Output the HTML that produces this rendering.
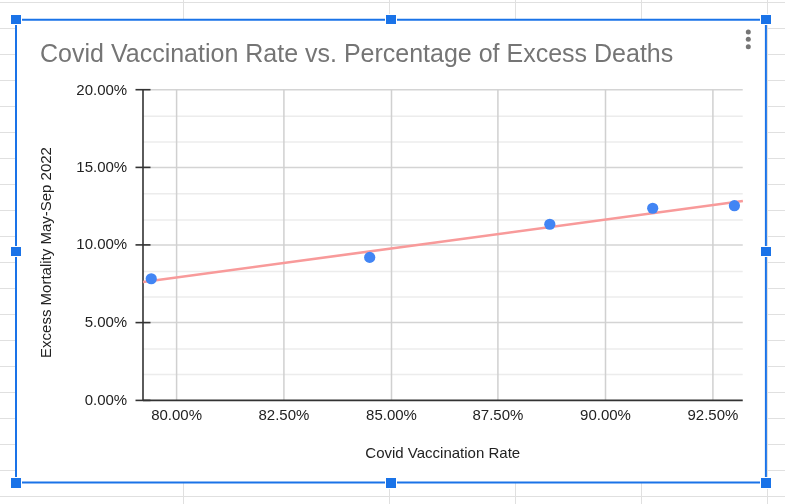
<!DOCTYPE html>
<html><head><meta charset="utf-8">
<style>
html,body{margin:0;padding:0;background:#fff;width:785px;height:504px;overflow:hidden;position:relative;font-family:"Liberation Sans",sans-serif;}
svg{position:absolute;left:0;top:0;will-change:transform;}
</style></head><body>
<svg width="785" height="504" viewBox="0 0 785 504">
<rect x="0" y="2" width="785" height="1" fill="#e0e0e0"/>
<rect x="0" y="28" width="785" height="1" fill="#e0e0e0"/>
<rect x="0" y="54" width="785" height="1" fill="#e0e0e0"/>
<rect x="0" y="80" width="785" height="1" fill="#e0e0e0"/>
<rect x="0" y="106" width="785" height="1" fill="#e0e0e0"/>
<rect x="0" y="132" width="785" height="1" fill="#e0e0e0"/>
<rect x="0" y="158" width="785" height="1" fill="#e0e0e0"/>
<rect x="0" y="184" width="785" height="1" fill="#e0e0e0"/>
<rect x="0" y="210" width="785" height="1" fill="#e0e0e0"/>
<rect x="0" y="236" width="785" height="1" fill="#e0e0e0"/>
<rect x="0" y="262" width="785" height="1" fill="#e0e0e0"/>
<rect x="0" y="288" width="785" height="1" fill="#e0e0e0"/>
<rect x="0" y="314" width="785" height="1" fill="#e0e0e0"/>
<rect x="0" y="340" width="785" height="1" fill="#e0e0e0"/>
<rect x="0" y="366" width="785" height="1" fill="#e0e0e0"/>
<rect x="0" y="392" width="785" height="1" fill="#e0e0e0"/>
<rect x="0" y="418" width="785" height="1" fill="#e0e0e0"/>
<rect x="0" y="444" width="785" height="1" fill="#e0e0e0"/>
<rect x="0" y="470" width="785" height="1" fill="#e0e0e0"/>
<rect x="0" y="496" width="785" height="1" fill="#e0e0e0"/>
<rect x="183" y="0" width="1" height="504" fill="#e0e0e0"/>
<rect x="389" y="0" width="1" height="504" fill="#e0e0e0"/>
<rect x="515" y="0" width="1" height="504" fill="#e0e0e0"/>
<rect x="641" y="0" width="1" height="504" fill="#e0e0e0"/>
<rect x="767" y="0" width="1" height="504" fill="#e0e0e0"/>
<rect x="16" y="19.5" width="750" height="463" fill="#fff"/>
<text x="40.05" y="62.2" font-size="25" fill="#757575">Covid Vaccination Rate vs. Percentage of Excess Deaths</text>
<circle cx="748.3" cy="32" r="2.5" fill="#757575"/>
<circle cx="748.3" cy="39.3" r="2.5" fill="#757575"/>
<circle cx="748.3" cy="46.7" r="2.5" fill="#757575"/>
<line x1="143" y1="116.3" x2="742.75" y2="116.3" stroke="#ececec" stroke-width="1.5"/>
<line x1="143" y1="142.1" x2="742.75" y2="142.1" stroke="#ececec" stroke-width="1.5"/>
<line x1="143" y1="193.8" x2="742.75" y2="193.8" stroke="#ececec" stroke-width="1.5"/>
<line x1="143" y1="219.9" x2="742.75" y2="219.9" stroke="#ececec" stroke-width="1.5"/>
<line x1="143" y1="271.4" x2="742.75" y2="271.4" stroke="#ececec" stroke-width="1.5"/>
<line x1="143" y1="297.1" x2="742.75" y2="297.1" stroke="#ececec" stroke-width="1.5"/>
<line x1="143" y1="349.1" x2="742.75" y2="349.1" stroke="#ececec" stroke-width="1.5"/>
<line x1="143" y1="374.5" x2="742.75" y2="374.5" stroke="#ececec" stroke-width="1.5"/>
<line x1="143" y1="89.7" x2="742.75" y2="89.7" stroke="#d4d4d4" stroke-width="1.5"/>
<line x1="143" y1="167.4" x2="742.75" y2="167.4" stroke="#d4d4d4" stroke-width="1.5"/>
<line x1="143" y1="244.9" x2="742.75" y2="244.9" stroke="#d4d4d4" stroke-width="1.5"/>
<line x1="143" y1="322.6" x2="742.75" y2="322.6" stroke="#d4d4d4" stroke-width="1.5"/>
<line x1="176.6" y1="89.7" x2="176.6" y2="400.4" stroke="#d0d0d0" stroke-width="1.5"/>
<line x1="283.9" y1="89.7" x2="283.9" y2="400.4" stroke="#d0d0d0" stroke-width="1.5"/>
<line x1="391.5" y1="89.7" x2="391.5" y2="400.4" stroke="#d0d0d0" stroke-width="1.5"/>
<line x1="497.9" y1="89.7" x2="497.9" y2="400.4" stroke="#d0d0d0" stroke-width="1.5"/>
<line x1="605.5" y1="89.7" x2="605.5" y2="400.4" stroke="#d0d0d0" stroke-width="1.5"/>
<line x1="712.9" y1="89.7" x2="712.9" y2="400.4" stroke="#d0d0d0" stroke-width="1.5"/>
<line x1="143" y1="89.7" x2="143" y2="400.4" stroke="#333" stroke-width="1.6"/>
<line x1="143" y1="400.4" x2="742.75" y2="400.4" stroke="#333" stroke-width="1.6"/>
<line x1="135.5" y1="89.7" x2="150.5" y2="89.7" stroke="#333" stroke-width="1.6"/>
<line x1="135.5" y1="167.4" x2="150.5" y2="167.4" stroke="#333" stroke-width="1.6"/>
<line x1="135.5" y1="244.9" x2="150.5" y2="244.9" stroke="#333" stroke-width="1.6"/>
<line x1="135.5" y1="322.6" x2="150.5" y2="322.6" stroke="#333" stroke-width="1.6"/>
<line x1="135.5" y1="400.4" x2="150.5" y2="400.4" stroke="#333" stroke-width="1.6"/>
<text x="127.2" y="94.8" font-size="15" fill="#222" text-anchor="end">20.00%</text>
<text x="127.2" y="172.1" font-size="15" fill="#222" text-anchor="end">15.00%</text>
<text x="127.2" y="248.8" font-size="15" fill="#222" text-anchor="end">10.00%</text>
<text x="127.2" y="327.4" font-size="15" fill="#222" text-anchor="end">5.00%</text>
<text x="127.2" y="404.5" font-size="15" fill="#222" text-anchor="end">0.00%</text>
<text x="176.6" y="419.6" font-size="15" fill="#222" text-anchor="middle">80.00%</text>
<text x="283.9" y="419.6" font-size="15" fill="#222" text-anchor="middle">82.50%</text>
<text x="391.5" y="419.6" font-size="15" fill="#222" text-anchor="middle">85.00%</text>
<text x="497.9" y="419.6" font-size="15" fill="#222" text-anchor="middle">87.50%</text>
<text x="605.5" y="419.6" font-size="15" fill="#222" text-anchor="middle">90.00%</text>
<text x="712.9" y="419.6" font-size="15" fill="#222" text-anchor="middle">92.50%</text>
<text x="442.75" y="457.8" font-size="15" fill="#222" text-anchor="middle">Covid Vaccination Rate</text>
<text transform="translate(51.25 252.5) rotate(-90)" font-size="15" fill="#222" text-anchor="middle">Excess Mortality May-Sep 2022</text>
<line x1="143" y1="282" x2="742.9" y2="201" stroke="#f89a9a" stroke-width="2.6"/>
<circle cx="151.25" cy="278.75" r="5.6" fill="#4285f4"/>
<circle cx="369.7" cy="257.4" r="5.6" fill="#4285f4"/>
<circle cx="549.8" cy="224.25" r="5.6" fill="#4285f4"/>
<circle cx="652.7" cy="208.25" r="5.6" fill="#4285f4"/>
<circle cx="734.4" cy="205.7" r="5.6" fill="#4285f4"/>
<line x1="16" y1="19.8" x2="766" y2="19.8" stroke="#1a73e8" stroke-width="2"/>
<line x1="16" y1="482.5" x2="766" y2="482.5" stroke="#1a73e8" stroke-width="2"/>
<line x1="16" y1="19" x2="16" y2="483.5" stroke="#1a73e8" stroke-width="2"/>
<line x1="765.9" y1="19" x2="765.9" y2="483.5" stroke="#1a73e8" stroke-width="2"/>
<rect x="10" y="14" width="12" height="11" fill="#fff"/>
<rect x="11" y="15" width="10" height="9" fill="#1a73e8"/>
<rect x="10" y="246" width="12" height="11" fill="#fff"/>
<rect x="11" y="247" width="10" height="9" fill="#1a73e8"/>
<rect x="10" y="477" width="12" height="12" fill="#fff"/>
<rect x="11" y="478" width="10" height="10" fill="#1a73e8"/>
<rect x="385" y="14" width="12" height="11" fill="#fff"/>
<rect x="386" y="15" width="10" height="9" fill="#1a73e8"/>
<rect x="385" y="477" width="12" height="12" fill="#fff"/>
<rect x="386" y="478" width="10" height="10" fill="#1a73e8"/>
<rect x="760" y="14" width="12" height="11" fill="#fff"/>
<rect x="761" y="15" width="10" height="9" fill="#1a73e8"/>
<rect x="760" y="246" width="12" height="11" fill="#fff"/>
<rect x="761" y="247" width="10" height="9" fill="#1a73e8"/>
<rect x="760" y="477" width="12" height="12" fill="#fff"/>
<rect x="761" y="478" width="10" height="10" fill="#1a73e8"/>
</svg></body></html>
